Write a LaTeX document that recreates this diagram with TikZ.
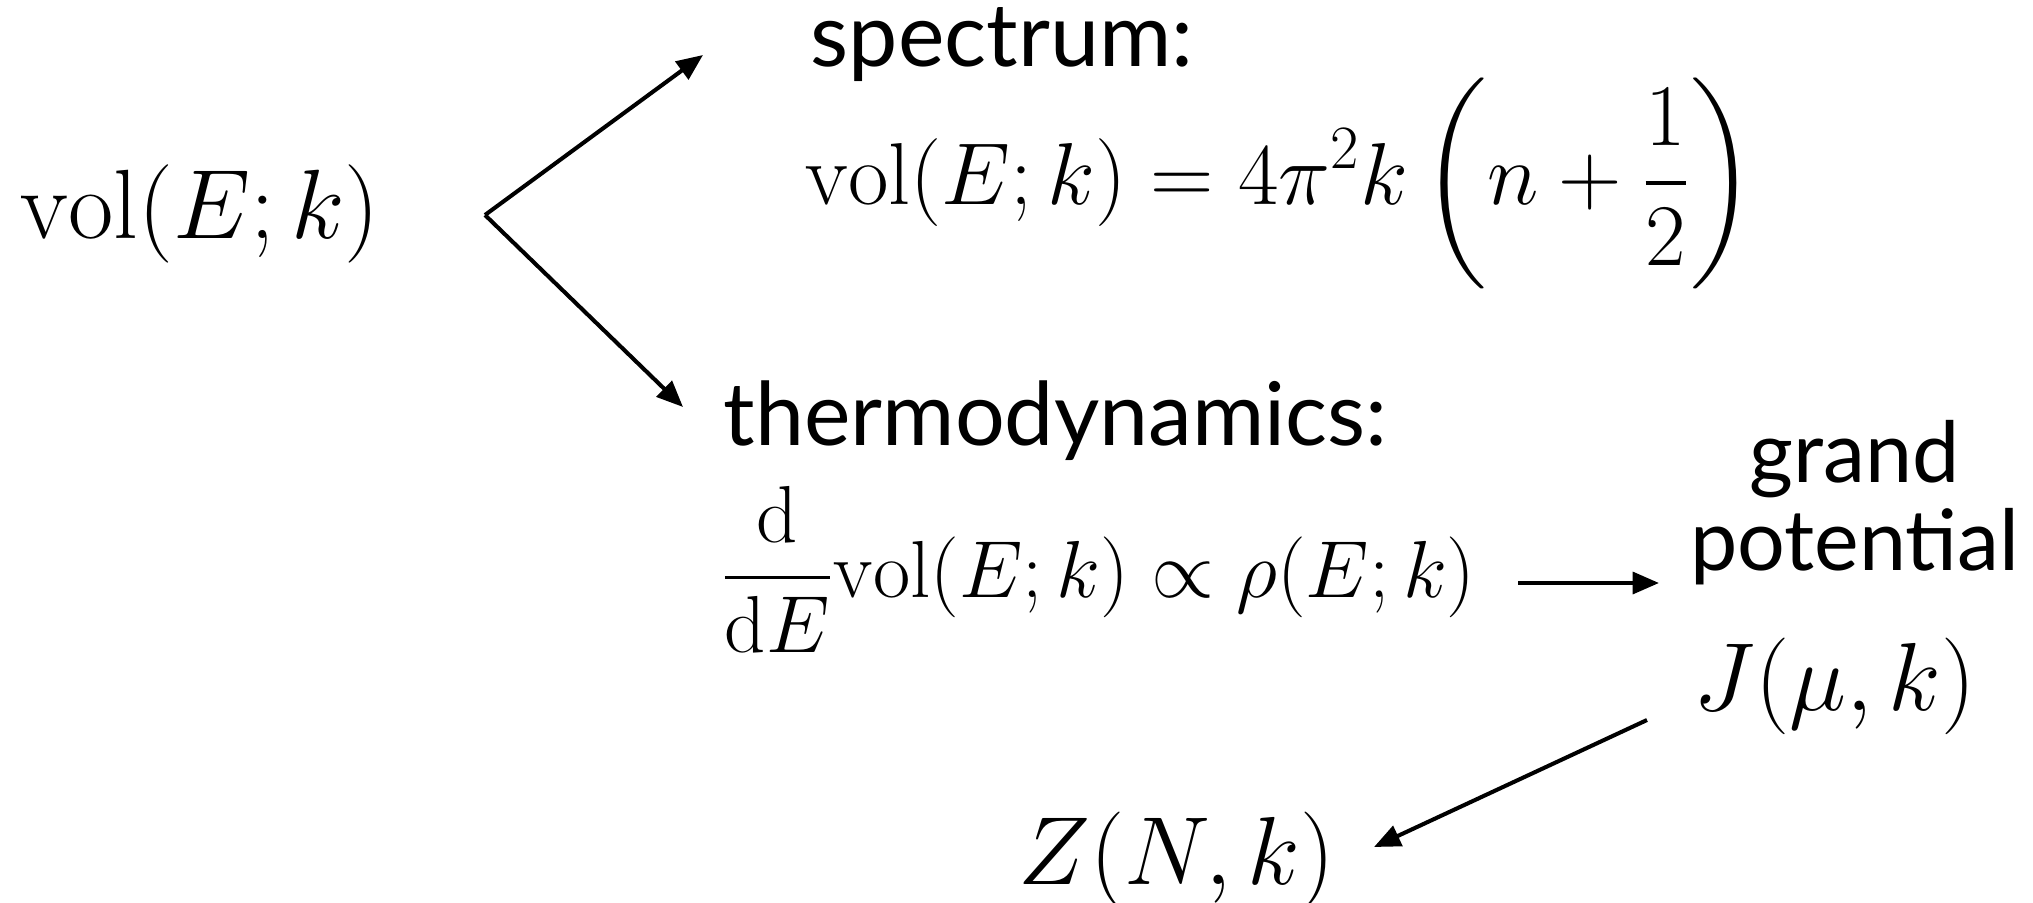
\documentclass[tikz,border=0pt]{standalone}
\usepackage{fix-cm}
\usepackage{amsmath,amssymb}
\usepackage{fontspec}
\usepackage{tikz}
\usetikzlibrary{arrows.meta,calc,positioning}
\newfontfamily\labelfont{Lato}
\newcommand{\volm}{\mathrm{vol}}

\begin{document}
\begin{tikzpicture}[
  x=0.01cm,y=-0.01cm,
  eq/.style={inner sep=0pt},
  lbl/.style={inner sep=0pt,align=center,font=\fontsize{25}{25}\selectfont\labelfont},
  flow/.style={-{Triangle[length=7.5pt,width=6.2pt]},line width=1.15pt},
]
  \useasboundingbox (0,0) rectangle (2033,903);

  % left: the starting quantity
  \node[eq,anchor=west,font=\fontsize{28}{30}\selectfont] (vol) at (20,214) {$\volm(E;k)$};

  % upper branch
  \node[lbl,anchor=base west] (spec) at (810,67) {spectrum:};
  \node[eq,anchor=west,font=\fontsize{25}{30}\selectfont] (speceq) at (805,183)
    {$\displaystyle \volm(E;k)=4\pi^2k\left(n+\frac{1}{2}\right)$};

  % lower branch
  \node[lbl,anchor=west] (thermo) at (723,421) {thermodynamics:};
  \node[eq,anchor=west,font=\fontsize{23}{27}\selectfont] (rho) at (720,570)
    {$\displaystyle \frac{\mathrm{d}}{\mathrm{d}E}\volm(E;k)\propto\rho(E;k)$};
  \node[lbl,font=\fontsize{24}{25}\selectfont\labelfont] (gp) at (1855,503) {grand\\potential};
  \node[eq,anchor=west,font=\fontsize{27.5}{30}\selectfont] (J) at (1693,686) {$J(\mu,k)$};
  \node[eq,anchor=west,font=\fontsize{27.5}{30}\selectfont] (Z) at (1018,860) {$Z(N,k)$};

  \coordinate (split) at (485,215);
  \coordinate (specend) at (703,55);
  \coordinate (thermoend) at (683,407);
  \coordinate (rhoend) at (1518,583);
  \coordinate (gpend) at (1659,583);
  \coordinate (Jend) at (1647,720);
  \coordinate (Zend) at (1374,847);

  \draw[flow] (split) -- (specend);
  \draw[flow] (split) -- (thermoend);
  \draw[flow] (rhoend) -- (gpend);
  \draw[flow] (Jend) -- (Zend);
\end{tikzpicture}
\end{document}
